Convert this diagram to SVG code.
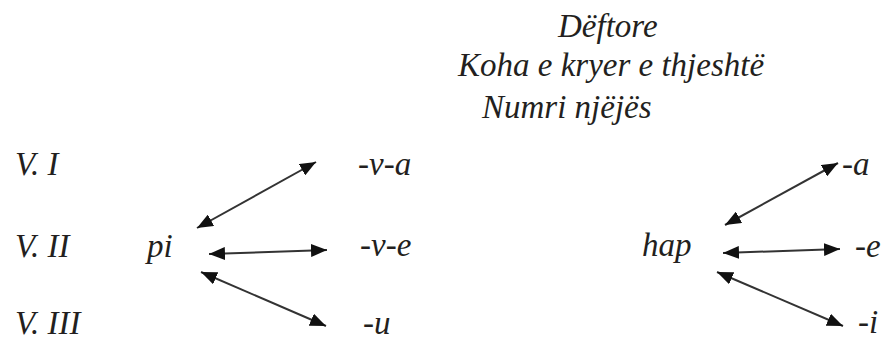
<svg xmlns="http://www.w3.org/2000/svg" width="886" height="342" viewBox="0 0 886 342">
<style>
text{font-family:"Liberation Serif","Times New Roman",serif;font-style:italic;font-size:33px;fill:#231f20}
.c line{stroke:#333;stroke-width:2;marker-start:url(#ah);marker-end:url(#ah)}
</style>
<defs>
<marker id="ah" viewBox="0 0 16 13" refX="16" refY="6.5" markerWidth="16" markerHeight="13" markerUnits="userSpaceOnUse" orient="auto-start-reverse">
<path d="M0,0 L16,6.5 L0,13 z" fill="#111"/>
</marker>
</defs>
<rect width="886" height="342" fill="#fff"/>
<g id="title">
<text x="558" y="37">Dëftore</text>
<text x="458" y="76">Koha e kryer e thjeshtë</text>
<text x="482" y="118">Numri njëjës</text>
</g>
<g id="labels">
<text x="15" y="175">V. I</text>
<text x="15" y="257">V. II</text>
<text x="15" y="334">V. III</text>
</g>
<g id="pi"><text x="147" y="257">pi</text></g>
<g id="va"><text x="358" y="175">-v-a</text></g>
<g id="ve"><text x="360" y="256">-v-e</text></g>
<g id="u"><text x="363" y="334">-u</text></g>
<g id="hap"><text x="642" y="256">hap</text></g>
<g id="a"><text x="842" y="175">-a</text></g>
<g id="e"><text x="855" y="257">-e</text></g>
<g id="i"><text x="858" y="333">-i</text></g>
<g id="connectors" class="c">
<line x1="197" y1="228" x2="316" y2="162"/>
<line x1="209" y1="254" x2="327" y2="250"/>
<line x1="201" y1="272" x2="326" y2="326"/>
<line x1="725" y1="225" x2="838" y2="163"/>
<line x1="723" y1="253" x2="840" y2="249"/>
<line x1="717" y1="272" x2="843" y2="326"/>
</g>
</svg>
